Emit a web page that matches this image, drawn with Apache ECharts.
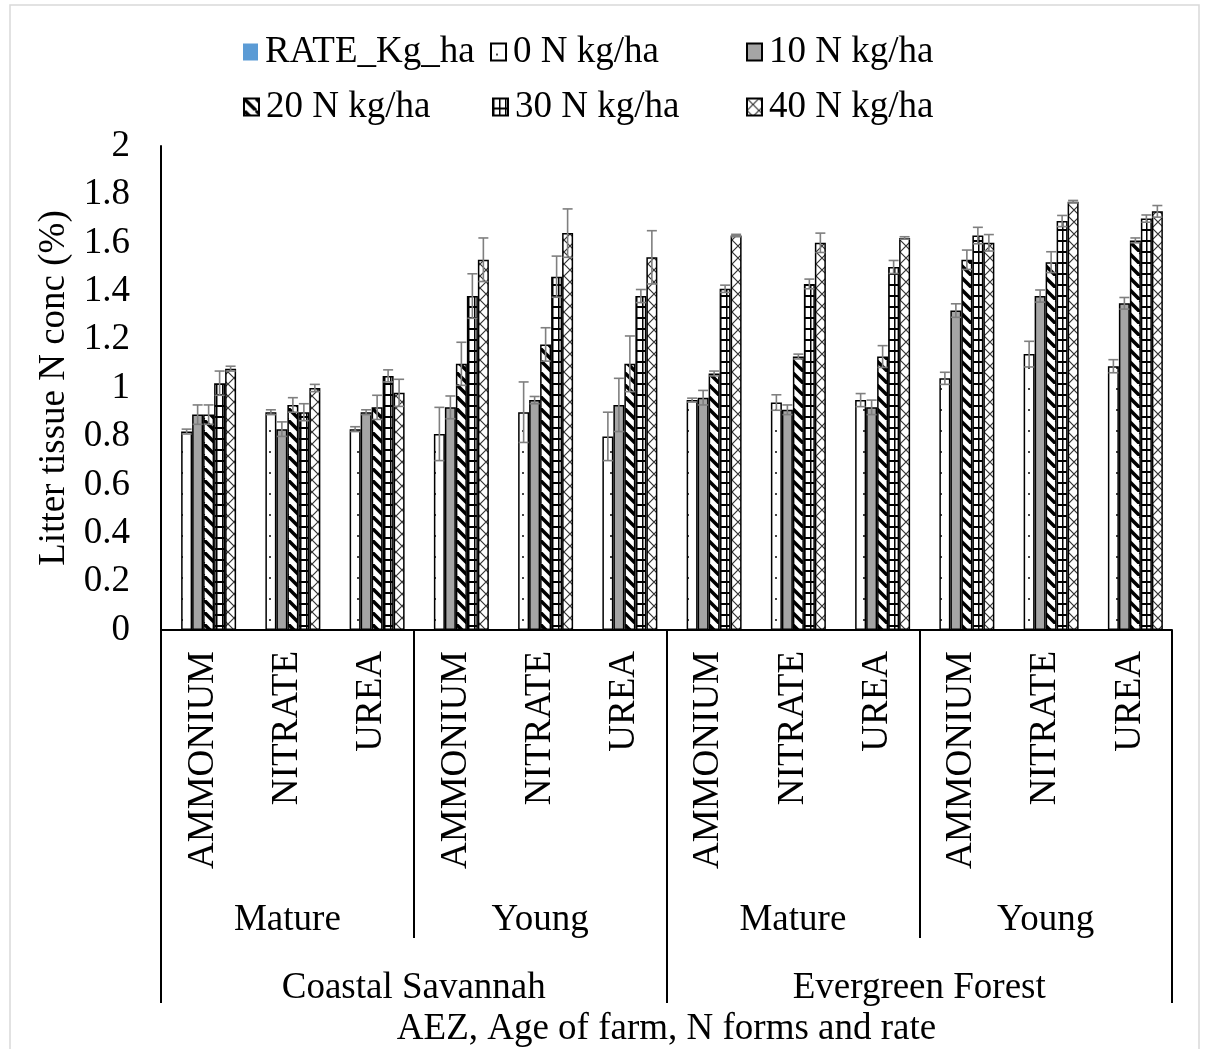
<!DOCTYPE html>
<html><head><meta charset="utf-8">
<script src="https://cdn.jsdelivr.net/npm/echarts@6/dist/echarts.min.js"></script>
<style>html,body{margin:0;padding:0;background:#fff}#c{width:1206px;height:1049px}</style>
</head><body><div id="c"></div>
<script>
// ---- data ----
const forms = ['AMMONIUM','NITRATE','UREA','AMMONIUM','NITRATE','UREA','AMMONIUM','NITRATE','UREA','AMMONIUM','NITRATE','UREA'];
const ages = ['Mature','Young','Mature','Young'];
const zones = ['Coastal Savannah','Evergreen Forest'];
const legendRate = 'RATE_Kg_ha';
const seriesNames = ['0 N kg/ha','10 N kg/ha','20 N kg/ha','30 N kg/ha','40 N kg/ha'];
const n0  = [0.82, 0.90, 0.83, 0.81, 0.90, 0.80, 0.95, 0.94, 0.95, 1.04, 1.14, 1.09];
const n10 = [0.89, 0.83, 0.90, 0.92, 0.95, 0.93, 0.96, 0.91, 0.92, 1.32, 1.38, 1.35];
const n20 = [0.89, 0.93, 0.92, 1.10, 1.18, 1.10, 1.06, 1.13, 1.13, 1.53, 1.52, 1.61];
const n30 = [1.02, 0.90, 1.05, 1.38, 1.46, 1.38, 1.41, 1.43, 1.50, 1.63, 1.69, 1.70];
const n40 = [1.08, 1.00, 0.98, 1.53, 1.64, 1.54, 1.63, 1.60, 1.62, 1.60, 1.77, 1.73];
const e0  = [0.010, 0.010, 0.010, 0.110, 0.125, 0.100, 0.008, 0.032, 0.027, 0.025, 0.053, 0.027];
const e10 = [0.040, 0.030, 0.010, 0.047, 0.015, 0.110, 0.030, 0.020, 0.030, 0.028, 0.025, 0.024];
const e20 = [0.040, 0.030, 0.050, 0.089, 0.069, 0.115, 0.010, 0.010, 0.045, 0.040, 0.043, 0.010];
const e30 = [0.050, 0.035, 0.025, 0.092, 0.085, 0.027, 0.015, 0.020, 0.027, 0.034, 0.023, 0.015];
const e40 = [0.010, 0.015, 0.056, 0.090, 0.100, 0.110, 0.005, 0.040, 0.005, 0.034, 0.005, 0.024];
const values = [n0, n10, n20, n30, n40];
const errors = [e0, e10, e20, e30, e40];

// ---- patterns ----
function tile(w, h, draw) {
  const c = document.createElement('canvas'); c.width = w; c.height = h;
  const g = c.getContext('2d'); g.fillStyle = '#fff'; g.fillRect(0, 0, w, h); draw(g);
  return { image: c, repeat: 'repeat' };
}
const pDots = tile(11, 21, g => { g.fillStyle = '#444'; g.fillRect(5, 10, 2, 2); });
const pGrey = '#a5a5a5';
const pDiag = tile(12, 12, g => {
  g.strokeStyle = '#000'; g.lineWidth = 3.5;
  [[-12,0],[0,0],[12,0]].forEach(([dx,dy]) => { g.beginPath(); g.moveTo(dx, dy); g.lineTo(dx+12, dy+12); g.stroke(); });
});
const pBrick = tile(6, 11, g => {
  g.fillStyle = '#000'; g.fillRect(0, 9, 6, 2); g.fillRect(0, 0, 1.5, 11);
});
const pCross = tile(12, 12, g => {
  g.strokeStyle = '#333'; g.lineWidth = 1.2;
  g.beginPath(); g.moveTo(0,0); g.lineTo(12,12); g.moveTo(12,0); g.lineTo(0,12); g.stroke();
});
const fills = [pDots, pGrey, pDiag, pBrick, pCross];

const FONT = "'Liberation Serif','Times New Roman',serif";
const FS = 37;
const GAP = 0.217;
const NSLOT = 6;

const chart = echarts.init(document.getElementById('c'), null, { renderer: 'canvas' });

const rateSeries = {
  name: legendRate, type: 'bar', xAxisIndex: 0, yAxisIndex: 0, data: [],
  barGap: '0%', barCategoryGap: (GAP*100) + '%',
  itemStyle: { color: '#5b9bd5' }
};

const barSeries = seriesNames.map((name, k) => ({
  name, type: 'bar', xAxisIndex: 0, yAxisIndex: 0,
  data: values[k], barGap: '0%', barCategoryGap: (GAP*100) + '%',
  itemStyle: { color: fills[k], borderColor: '#000', borderWidth: 1.5 },
  emphasis: { disabled: true }
}));

const errData = [];
values.forEach((arr, k) => arr.forEach((v, i) => errData.push([i, k, v, errors[k][i]])));

const errSeries = {
  type: 'custom', name: 'err', xAxisIndex: 0, yAxisIndex: 0, z: 5,
  data: errData, encode: { x: 0, y: 2 },
  renderItem(params, api) {
    const ci = api.value(0), si = api.value(1), v = api.value(2), e = api.value(3);
    const bw = api.size([1, 0])[0];
    const gw = bw * (1 - GAP), w = gw / NSLOT;
    const c = api.coord([ci, v]);
    const x = c[0] - gw / 2 + (si + 1.5) * w;
    const top = api.coord([ci, v + e])[1], bot = api.coord([ci, v - e])[1];
    const hw = 5, st = { stroke: '#7f7f7f', lineWidth: 1.6 };
    return { type: 'group', children: [
      { type: 'line', shape: { x1: x, y1: top, x2: x, y2: bot }, style: st },
      { type: 'line', shape: { x1: x - hw, y1: top, x2: x + hw, y2: top }, style: st },
      { type: 'line', shape: { x1: x - hw, y1: bot, x2: x + hw, y2: bot }, style: st }
    ]};
  }
};

const legendBase = {
  orient: 'horizontal', itemWidth: 15, itemHeight: 17, padding: 0, icon: 'rect',
  textStyle: { fontFamily: FONT, fontSize: FS, color: '#000', lineHeight: 40, padding: [0, 0, 0, 2] },
  selectedMode: false
};
const legPos = [[legendRate, 243, 32], [seriesNames[0], 490, 32], [seriesNames[1], 746, 32],
                [seriesNames[2], 243, 87], [seriesNames[3], 492, 87], [seriesNames[4], 746, 87]];

const option = {
  backgroundColor: '#fff',
  animation: false,
  graphic: [{ type: 'rect', shape: { x: 10, y: 5, width: 1189, height: 1060 },
    style: { fill: 'none', stroke: '#d9d9d9', lineWidth: 1.5 }, silent: true }],
  legend: legPos.map(([n, l, t]) => Object.assign({}, legendBase, { data: [n], left: l, top: t })),
  grid: { left: 161, right: 34, top: 146, bottom: 417, containLabel: false },
  yAxis: {
    type: 'value', min: 0, max: 2, interval: 0.2,
    name: 'Litter tissue N conc (%)', nameLocation: 'middle', nameGap: 85,
    nameTextStyle: { fontFamily: FONT, fontSize: FS, color: '#000' },
    axisLine: { show: true, lineStyle: { color: '#000', width: 2 } },
    axisTick: { show: false }, splitLine: { show: false },
    axisLabel: { fontFamily: FONT, fontSize: FS, color: '#000', margin: 31 }
  },
  xAxis: [
    { type: 'category', data: forms, position: 'bottom', gridIndex: 0,
      axisLine: { show: true, lineStyle: { color: '#000', width: 2 } },
      axisTick: { show: false },
      axisLabel: { interval: 0, rotate: 90, fontFamily: FONT, fontSize: FS, color: '#000', margin: 21 },
      name: 'AEZ, Age of farm, N forms and rate', nameLocation: 'middle', nameGap: 381,
      nameTextStyle: { fontFamily: FONT, fontSize: FS, color: '#000', verticalAlign: 'top' }
    },
    { type: 'category', data: ages, position: 'bottom', gridIndex: 0,
      axisLine: { show: false },
      axisTick: { show: true, length: 308, lineStyle: { color: '#000', width: 2 } },
      axisLabel: { interval: 0, fontFamily: FONT, fontSize: FS, color: '#000', margin: 272 }
    },
    { type: 'category', data: zones, position: 'bottom', gridIndex: 0,
      axisLine: { show: false },
      axisTick: { show: true, length: 373, lineStyle: { color: '#000', width: 2 } },
      axisLabel: { interval: 0, fontFamily: FONT, fontSize: FS, color: '#000', margin: 340 }
    }
  ],
  series: [rateSeries, ...barSeries, errSeries]
};
chart.setOption(option);
</script></body></html>
